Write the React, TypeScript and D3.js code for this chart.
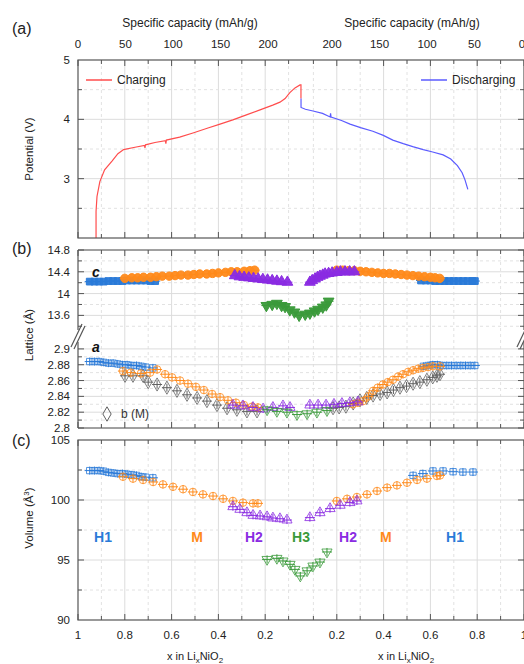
import React from "react";
import * as d3 from "d3";

// ---- data ----
// panel (a): [specific capacity mAh/g, potential V]
const chargeCurve: [number, number][] = [
  [19, 1.9], [19, 2.45], [20, 2.7], [23, 2.95], [28, 3.15], [36, 3.3], [42, 3.42], [48, 3.49],
  [60, 3.53], [70, 3.56], [70.5, 3.52], [71, 3.57], [81, 3.61], [92, 3.64], [92.5, 3.59], [93, 3.65],
  [107, 3.7], [121, 3.77], [136, 3.85], [149.5, 3.92], [163, 3.99], [178, 4.08], [191.6, 4.16],
  [205, 4.24], [212.6, 4.29], [218, 4.35], [223, 4.45], [228.4, 4.53], [233.7, 4.58], [234.7, 4.58],
  [234.7, 4.35],
];
const dischargeCurve: [number, number][] = [
  [232.6, 4.35], [232.6, 4.2], [228, 4.17], [220, 4.14], [210, 4.1], [202, 4.04], [201.5, 4.1],
  [201, 4.04], [190, 3.98], [181, 3.92], [170, 3.86], [157, 3.8], [146, 3.73], [136, 3.65],
  [125, 3.59], [115, 3.54], [104, 3.49], [94, 3.45], [83, 3.4], [75, 3.33], [68, 3.22], [63, 3.1],
  [60, 2.98], [57, 2.82],
];

// panel (b), c lattice: [x in LixNiO2, c (Å)]
const cH1Charge: [number, number][] = [
  [0.95, 14.22], [0.93, 14.22], [0.91, 14.22], [0.89, 14.22], [0.87, 14.23], [0.85, 14.23], [0.83, 14.23],
  [0.81, 14.23], [0.79, 14.24], [0.77, 14.24], [0.75, 14.24], [0.73, 14.24], [0.71, 14.24], [0.69, 14.23], [0.67, 14.23],
];
const cMCharge: [number, number][] = [
  [0.8, 14.28], [0.77, 14.29], [0.745, 14.29], [0.72, 14.3], [0.69, 14.3], [0.665, 14.31], [0.64, 14.32],
  [0.61, 14.32], [0.585, 14.33], [0.56, 14.34], [0.53, 14.34], [0.505, 14.35], [0.48, 14.36], [0.45, 14.36],
  [0.425, 14.37], [0.4, 14.38], [0.37, 14.39], [0.345, 14.4], [0.32, 14.4], [0.29, 14.41], [0.265, 14.42], [0.245, 14.43],
];
const cH2Charge: [number, number][] = [
  [0.33, 14.33], [0.31, 14.31], [0.29, 14.3], [0.27, 14.29], [0.25, 14.28], [0.23, 14.27], [0.21, 14.26],
  [0.19, 14.25], [0.17, 14.24], [0.15, 14.23], [0.13, 14.22], [0.105, 14.21],
];
const cH3Charge: [number, number][] = [
  [0.195, 13.78], [0.17, 13.8], [0.15, 13.82], [0.13, 13.78], [0.115, 13.76], [0.095, 13.7], [0.075, 13.66], [0.055, 13.6],
];
const cH3Discharge: [number, number][] = [
  [0.065, 13.62], [0.085, 13.64], [0.105, 13.68], [0.12, 13.71], [0.14, 13.75], [0.155, 13.79], [0.165, 13.86],
];
const cH2Discharge: [number, number][] = [
  [0.085, 14.21], [0.095, 14.24], [0.107, 14.27], [0.118, 14.3], [0.128, 14.32], [0.14, 14.34], [0.15, 14.36],
  [0.165, 14.37], [0.18, 14.38], [0.2, 14.39], [0.215, 14.4], [0.235, 14.4], [0.255, 14.4], [0.275, 14.4],
];
const cMDischarge: [number, number][] = [
  [0.2, 14.43], [0.225, 14.43], [0.25, 14.42], [0.275, 14.42], [0.3, 14.41], [0.325, 14.4], [0.35, 14.39],
  [0.375, 14.38], [0.4, 14.37], [0.425, 14.37], [0.45, 14.36], [0.475, 14.35], [0.5, 14.34], [0.525, 14.33],
  [0.55, 14.32], [0.575, 14.31], [0.6, 14.3], [0.62, 14.29], [0.64, 14.28],
];
const cH1Discharge: [number, number][] = [
  [0.56, 14.24], [0.58, 14.24], [0.6, 14.24], [0.62, 14.23], [0.64, 14.23], [0.66, 14.23], [0.68, 14.23],
  [0.7, 14.23], [0.72, 14.23], [0.74, 14.23], [0.76, 14.23], [0.78, 14.23], [0.79, 14.23],
];

// panel (b), a and b lattice
const aH1Charge: [number, number][] = [
  [0.95, 2.884], [0.93, 2.884], [0.91, 2.884], [0.89, 2.883], [0.87, 2.882], [0.85, 2.882], [0.83, 2.881],
  [0.81, 2.88], [0.79, 2.88], [0.77, 2.879], [0.75, 2.879], [0.73, 2.878], [0.71, 2.877], [0.68, 2.876],
];
const aMCharge: [number, number][] = [
  [0.808, 2.872], [0.774, 2.87], [0.731, 2.869], [0.692, 2.87], [0.662, 2.874], [0.628, 2.868], [0.598, 2.864],
  [0.564, 2.86], [0.53, 2.856], [0.496, 2.852], [0.462, 2.848], [0.427, 2.843], [0.393, 2.839], [0.359, 2.835],
  [0.325, 2.832], [0.291, 2.829], [0.256, 2.827], [0.231, 2.826],
];
const bMCharge: [number, number][] = [
  [0.799, 2.866], [0.765, 2.866], [0.722, 2.866], [0.7, 2.858], [0.662, 2.855], [0.62, 2.851], [0.577, 2.847],
  [0.534, 2.842], [0.491, 2.838], [0.449, 2.834], [0.406, 2.829], [0.363, 2.825], [0.321, 2.823], [0.278, 2.821], [0.235, 2.821],
];
const aH2Charge: [number, number][] = [
  [0.338, 2.829], [0.295, 2.828], [0.252, 2.826], [0.209, 2.824], [0.167, 2.826], [0.124, 2.828], [0.094, 2.826],
];
const aH3Charge: [number, number][] = [[0.192, 2.823], [0.15, 2.821], [0.107, 2.82], [0.064, 2.817]];
const aH3Discharge: [number, number][] = [[0.073, 2.818], [0.115, 2.82], [0.158, 2.822]];
const aH2Discharge: [number, number][] = [
  [0.085, 2.829], [0.12, 2.829], [0.154, 2.829], [0.188, 2.83], [0.222, 2.831], [0.256, 2.832], [0.29, 2.833],
];
const bMDischarge: [number, number][] = [
  [0.184, 2.825], [0.21, 2.826], [0.239, 2.827], [0.27, 2.831], [0.299, 2.835], [0.328, 2.838], [0.355, 2.841],
  [0.385, 2.843], [0.415, 2.845], [0.442, 2.848], [0.47, 2.851], [0.498, 2.853], [0.526, 2.856], [0.555, 2.858],
  [0.585, 2.861], [0.61, 2.864], [0.628, 2.866], [0.641, 2.868],
];
const aMDischarge: [number, number][] = [
  [0.269, 2.83], [0.29, 2.832], [0.312, 2.834], [0.335, 2.84], [0.355, 2.847], [0.375, 2.851], [0.397, 2.855],
  [0.418, 2.858], [0.44, 2.861], [0.462, 2.865], [0.483, 2.868], [0.505, 2.871], [0.526, 2.873], [0.548, 2.875],
  [0.568, 2.876], [0.59, 2.877], [0.611, 2.878], [0.641, 2.878],
];
const aH1Discharge: [number, number][] = [
  [0.57, 2.878], [0.59, 2.879], [0.61, 2.88], [0.63, 2.88], [0.65, 2.879], [0.67, 2.879], [0.69, 2.879],
  [0.71, 2.879], [0.73, 2.879], [0.75, 2.879], [0.77, 2.879], [0.79, 2.879],
];

// panel (c), volume: [x, V (Å3)]
const vH1Charge: [number, number][] = [
  [0.95, 102.45], [0.93, 102.45], [0.91, 102.45], [0.89, 102.4], [0.87, 102.3], [0.85, 102.25], [0.83, 102.2],
  [0.81, 102.2], [0.79, 102.15], [0.77, 102.1], [0.75, 102.05], [0.73, 101.95], [0.71, 101.9], [0.68, 101.85],
];
const vMCharge: [number, number][] = [
  [0.808, 101.94], [0.765, 101.78], [0.722, 101.67], [0.679, 101.5], [0.637, 101.3], [0.594, 101.1], [0.551, 100.9],
  [0.509, 100.67], [0.466, 100.47], [0.423, 100.33], [0.38, 100.1], [0.338, 99.92], [0.295, 99.78], [0.252, 99.72], [0.231, 99.72],
];
const vH2Charge: [number, number][] = [
  [0.338, 99.44], [0.308, 99.22], [0.278, 98.94], [0.252, 98.72], [0.222, 98.67], [0.192, 98.6], [0.167, 98.5],
  [0.137, 98.44], [0.107, 98.33],
];
const vH3Charge: [number, number][] = [
  [0.192, 95.05], [0.15, 95.14], [0.124, 94.92], [0.094, 94.64], [0.073, 94.22], [0.05, 93.67],
];
const vH3Discharge: [number, number][] = [[0.073, 94.1], [0.098, 94.5], [0.128, 94.83], [0.158, 95.67]];
const vH2Discharge: [number, number][] = [
  [0.085, 98.53], [0.128, 98.94], [0.171, 99.28], [0.214, 99.56], [0.256, 99.78], [0.286, 99.92],
];
const vMDischarge: [number, number][] = [
  [0.2, 99.92], [0.244, 100.1], [0.286, 100.25], [0.329, 100.47], [0.372, 100.75], [0.415, 101.03], [0.457, 101.22],
  [0.5, 101.44], [0.543, 101.67], [0.585, 101.78], [0.628, 102.0], [0.641, 102.05],
];
const vH1Discharge: [number, number][] = [
  [0.526, 102.05], [0.568, 102.2], [0.611, 102.42], [0.654, 102.42], [0.697, 102.36], [0.739, 102.33], [0.782, 102.33],
];

const capacityTicks = [0, 50, 100, 150, 200];
const xTicks = [1, 0.9, 0.8, 0.7, 0.6, 0.5, 0.4, 0.3, 0.2, 0.1];
const xTickLabels = ["1", "0.8", "0.6", "0.4", "0.2"];
const phaseLabels = [
  { t: "H1", x: 0.893, side: "c", phase: "H1" },
  { t: "M", x: 0.491, side: "c", phase: "M" },
  { t: "H2", x: 0.248, side: "c", phase: "H2" },
  { t: "H3", x: 0.047, side: "c", phase: "H3" },
  { t: "H2", x: 0.248, side: "d", phase: "H2" },
  { t: "M", x: 0.41, side: "d", phase: "M" },
  { t: "H1", x: 0.705, side: "d", phase: "H1" },
];

const colors: Record<string, string> = {
  H1: "#2a7ad8",
  M: "#ff8a1a",
  H2: "#8a2be2",
  H3: "#3a9a3a",
  b: "#606060",
};

const FONT = "'Liberation Sans', Arial, sans-serif";
const L = 78;
const R = 524;
const frame = "#555";
const TICK_FONT = 11.5;

// x axis: charge side runs 1 -> ~0.05, discharge side ~0.05 -> 1
const xu = d3.scaleLinear().domain([0, 1.906]).range([L, R]);
const xPos = (x: number, side: string) => xu(side === "c" ? 1 - x : 0.906 + x);
const capC = d3.scaleLinear().domain([0, 250]).range([L, L + 237.5]);
const capD = d3.scaleLinear().domain([0, 250]).range([522, 522 - 237.5]);

const ya = d3.scaleLinear().domain([2, 5]).range([238, 60]);
const ybU = d3.scaleLinear().domain([13.35, 14.8]).range([329, 250]);
const ybL = d3.scaleLinear().domain([2.8, 2.91]).range([428, 341]);
const yc = d3.scaleLinear().domain([90, 105]).range([620, 440]);

const symPath = (type: d3.SymbolType, size: number) => d3.symbol().type(type).size(size)() || "";

type Series = {
  data: [number, number][];
  side: string;
  phase: string;
  shape: d3.SymbolType;
  down?: boolean;
  filled: boolean;
  size: number;
};

function Markers({ s, y }: { s: Series; y: d3.ScaleLinear<number, number> }) {
  const col = colors[s.phase];
  const path = symPath(s.shape, s.size);
  return (
    <g>
      {s.data.map(([x, v], i) => {
        const px = xPos(x, s.side);
        const py = y(v);
        return (
          <g key={i} transform={`translate(${px},${py})`}>
            <line x1={-5} x2={5} y1={0} y2={0} stroke={col} strokeWidth={1} />
            {!s.filled && <line x1={0} x2={0} y1={-4} y2={4} stroke={col} strokeWidth={1} />}
            <path
              d={path}
              transform={s.down ? "rotate(180)" : undefined}
              fill={s.filled ? col : "none"}
              fillOpacity={s.filled ? 0.95 : 0}
              stroke={col}
              strokeOpacity={s.filled ? 1 : 0.8}
              strokeWidth={1}
            />
          </g>
        );
      })}
    </g>
  );
}

function XFrameTicks({ top, bottom }: { top: number; bottom: number }) {
  const items: JSX.Element[] = [];
  ["c", "d"].forEach((side) => {
    xTicks.forEach((t, i) => {
      const px = xPos(t, side);
      const major = Math.round(t * 10) % 2 === 0;
      const len = major ? 6 : 4;
      items.push(
        <g key={`${side}${i}`}>
          <line x1={px} x2={px} y1={top} y2={top + len} stroke={frame} strokeWidth={1} />
          <line x1={px} x2={px} y1={bottom} y2={bottom - len} stroke={frame} strokeWidth={1} />
        </g>
      );
    });
  });
  return <g>{items}</g>;
}

function XGrid({ top, bottom }: { top: number; bottom: number }) {
  const items: JSX.Element[] = [];
  ["c", "d"].forEach((side) => {
    xTicks.forEach((t, i) => {
      if (t === 1) return;
      const px = xPos(t, side);
      const major = Math.round(t * 10) % 2 === 0;
      items.push(
        <line
          key={`${side}${i}`}
          x1={px}
          x2={px}
          y1={top}
          y2={bottom}
          stroke={major ? "#dcdcdc" : "#e2e2e2"}
          strokeWidth={1}
          strokeDasharray={major ? undefined : "3,3"}
        />
      );
    });
  });
  return <g>{items}</g>;
}

function YAxis({
  y,
  major,
  minor,
  labels,
  fmt,
}: {
  y: d3.ScaleLinear<number, number>;
  major: number[];
  minor: number[];
  labels: number[];
  fmt: (v: number) => string;
}) {
  return (
    <g>
      {major.map((v, i) => (
        <line key={"gm" + i} x1={L} x2={R} y1={y(v)} y2={y(v)} stroke="#dcdcdc" strokeWidth={1} />
      ))}
      {minor.map((v, i) => (
        <line key={"gn" + i} x1={L} x2={R} y1={y(v)} y2={y(v)} stroke="#e2e2e2" strokeWidth={1} strokeDasharray="3,3" />
      ))}
      {major.map((v, i) => (
        <g key={"tm" + i}>
          <line x1={L} x2={L + 6} y1={y(v)} y2={y(v)} stroke={frame} />
          <line x1={R} x2={R - 6} y1={y(v)} y2={y(v)} stroke={frame} />
        </g>
      ))}
      {minor.map((v, i) => (
        <g key={"tn" + i}>
          <line x1={L} x2={L + 4} y1={y(v)} y2={y(v)} stroke={frame} />
          <line x1={R} x2={R - 4} y1={y(v)} y2={y(v)} stroke={frame} />
        </g>
      ))}
      {labels.map((v, i) => (
        <text key={"l" + i} x={70} y={y(v) + 4} textAnchor="end" fontSize={TICK_FONT} fill="#222">
          {fmt(v)}
        </text>
      ))}
    </g>
  );
}

const cSeries: Series[] = [
  { data: cH1Charge, side: "c", phase: "H1", shape: d3.symbolSquare, filled: true, size: 45 },
  { data: cH1Discharge, side: "d", phase: "H1", shape: d3.symbolSquare, filled: true, size: 45 },
  { data: cMCharge, side: "c", phase: "M", shape: d3.symbolCircle, filled: true, size: 55 },
  { data: cMDischarge, side: "d", phase: "M", shape: d3.symbolCircle, filled: true, size: 55 },
  { data: cH2Charge, side: "c", phase: "H2", shape: d3.symbolTriangle, filled: true, size: 50 },
  { data: cH2Discharge, side: "d", phase: "H2", shape: d3.symbolTriangle, filled: true, size: 50 },
  { data: cH3Charge, side: "c", phase: "H3", shape: d3.symbolTriangle, down: true, filled: true, size: 50 },
  { data: cH3Discharge, side: "d", phase: "H3", shape: d3.symbolTriangle, down: true, filled: true, size: 50 },
];
const aSeries: Series[] = [
  { data: bMCharge, side: "c", phase: "b", shape: d3.symbolDiamond, filled: false, size: 50 },
  { data: bMDischarge, side: "d", phase: "b", shape: d3.symbolDiamond, filled: false, size: 50 },
  { data: aH1Charge, side: "c", phase: "H1", shape: d3.symbolSquare, filled: false, size: 40 },
  { data: aH1Discharge, side: "d", phase: "H1", shape: d3.symbolSquare, filled: false, size: 40 },
  { data: aMCharge, side: "c", phase: "M", shape: d3.symbolCircle, filled: false, size: 45 },
  { data: aMDischarge, side: "d", phase: "M", shape: d3.symbolCircle, filled: false, size: 45 },
  { data: aH2Charge, side: "c", phase: "H2", shape: d3.symbolTriangle, filled: false, size: 45 },
  { data: aH2Discharge, side: "d", phase: "H2", shape: d3.symbolTriangle, filled: false, size: 45 },
  { data: aH3Charge, side: "c", phase: "H3", shape: d3.symbolTriangle, down: true, filled: false, size: 45 },
  { data: aH3Discharge, side: "d", phase: "H3", shape: d3.symbolTriangle, down: true, filled: false, size: 45 },
];
const vSeries: Series[] = [
  { data: vH1Charge, side: "c", phase: "H1", shape: d3.symbolSquare, filled: false, size: 40 },
  { data: vH1Discharge, side: "d", phase: "H1", shape: d3.symbolSquare, filled: false, size: 40 },
  { data: vMCharge, side: "c", phase: "M", shape: d3.symbolCircle, filled: false, size: 45 },
  { data: vMDischarge, side: "d", phase: "M", shape: d3.symbolCircle, filled: false, size: 45 },
  { data: vH2Charge, side: "c", phase: "H2", shape: d3.symbolTriangle, filled: false, size: 45 },
  { data: vH2Discharge, side: "d", phase: "H2", shape: d3.symbolTriangle, filled: false, size: 45 },
  { data: vH3Charge, side: "c", phase: "H3", shape: d3.symbolTriangle, down: true, filled: false, size: 45 },
  { data: vH3Discharge, side: "d", phase: "H3", shape: d3.symbolTriangle, down: true, filled: false, size: 45 },
];

export default function App() {
  const chargeLine = d3
    .line<[number, number]>()
    .x((d) => capC(d[0]))
    .y((d) => ya(d[1]));
  const dischargeLine = d3
    .line<[number, number]>()
    .x((d) => capD(d[0]))
    .y((d) => ya(d[1]));

  const d3f = (v: number) => String(v);

  return (
    <svg
      width={524}
      height={664}
      style={{ position: "absolute", left: 0, top: 0, background: "#fff" }}
      fontFamily={FONT}
    >
      <defs>
        <clipPath id="clipA">
          <rect x={L} y={60} width={R - L} height={178} />
        </clipPath>
      </defs>

      {/* top capacity axis */}
      {["c", "d"].map((side) => (
        <text key={side} x={side === "c" ? 190 : 412} y={27} textAnchor="middle" fontSize={12} fill="#222">
          Specific capacity (mAh/g)
        </text>
      ))}
      {capacityTicks.map((c) => (
        <text key={"tc" + c} x={capC(c)} y={48} textAnchor="middle" fontSize={TICK_FONT} fill="#222">
          {c}
        </text>
      ))}
      {capacityTicks.map((c) => (
        <text key={"td" + c} x={capD(c)} y={48} textAnchor="middle" fontSize={TICK_FONT} fill="#222">
          {c}
        </text>
      ))}

      {/* panel labels */}
      <text x={12} y={34} fontSize={16} fill="#222">(a)</text>
      <text x={12} y={254} fontSize={16} fill="#222">(b)</text>
      <text x={12} y={446} fontSize={16} fill="#222">(c)</text>

      {/* ===== panel (a) ===== */}
      <XGrid top={60} bottom={238} />
      <YAxis y={ya} major={[3, 4]} minor={[2.5, 3.5, 4.5]} labels={[3, 4, 5]} fmt={d3f} />
      <g clipPath="url(#clipA)">
        <path d={chargeLine(chargeCurve) || ""} fill="none" stroke="#ff4d4d" strokeWidth={1.2} />
        <path d={dischargeLine(dischargeCurve) || ""} fill="none" stroke="#5b5bff" strokeWidth={1.2} />
      </g>
      <XFrameTicks top={60} bottom={238} />
      <rect x={L} y={60} width={R - L} height={178} fill="none" stroke={frame} strokeWidth={1.2} />
      <line x1={86} x2={112} y1={80} y2={80} stroke="#ff4d4d" strokeWidth={1.5} />
      <text x={117} y={84} fontSize={12} fill="#222">Charging</text>
      <line x1={421} x2={447} y1={80} y2={80} stroke="#5b5bff" strokeWidth={1.5} />
      <text x={452} y={84} fontSize={12} fill="#222">Discharging</text>
      <text transform={`translate(33,149) rotate(-90)`} textAnchor="middle" fontSize={11.5} fill="#222">
        Potential (V)
      </text>

      {/* ===== panel (b) ===== */}
      <XGrid top={250} bottom={428} />
      <YAxis
        y={ybU}
        major={[13.6, 14, 14.4, 14.8]}
        minor={[13.4, 13.8, 14.2, 14.6]}
        labels={[13.6, 14, 14.4, 14.8]}
        fmt={d3f}
      />
      <YAxis
        y={ybL}
        major={[2.8, 2.82, 2.84, 2.86, 2.88, 2.9]}
        minor={[2.81, 2.83, 2.85, 2.87, 2.89]}
        labels={[2.8, 2.82, 2.84, 2.86, 2.88, 2.9]}
        fmt={(v) => d3.format(".3~f")(v)}
      />
      {cSeries.map((s, i) => (
        <Markers key={"c" + i} s={s} y={ybU} />
      ))}
      {aSeries.map((s, i) => (
        <Markers key={"a" + i} s={s} y={ybL} />
      ))}
      <XFrameTicks top={250} bottom={428} />
      <line x1={L} x2={R} y1={250} y2={250} stroke={frame} strokeWidth={1.2} />
      <line x1={L} x2={R} y1={428} y2={428} stroke={frame} strokeWidth={1.2} />
      {[L, R].map((x) => (
        <g key={"ax" + x}>
          <line x1={x} x2={x} y1={250} y2={330} stroke={frame} strokeWidth={1.2} />
          <line x1={x} x2={x} y1={342} y2={428} stroke={frame} strokeWidth={1.2} />
          <rect x={x - 8} y={330} width={16} height={12} fill="#fff" />
          <line x1={x - 7} x2={x + 4} y1={347} y2={324} stroke={frame} strokeWidth={1.2} />
          <line x1={x - 4} x2={x + 7} y1={349} y2={326} stroke={frame} strokeWidth={1.2} />
        </g>
      ))}
      <text x={92} y={277} fontSize={14} fontWeight="bold" fontStyle="italic" fill="#111">c</text>
      <text x={92} y={352} fontSize={14} fontWeight="bold" fontStyle="italic" fill="#111">a</text>
      <path d={symPath(d3.symbolDiamond, 60)} transform="translate(107,414)" fill="none" stroke={colors.b} strokeWidth={1} />
      <text x={121} y={418} fontSize={12} fill="#333">b (M)</text>
      <text transform={`translate(33,335) rotate(-90)`} textAnchor="middle" fontSize={11.5} fill="#222">
        Lattice (Å)
      </text>

      {/* ===== panel (c) ===== */}
      <XGrid top={440} bottom={620} />
      <YAxis y={yc} major={[95, 100]} minor={[92.5, 97.5, 102.5]} labels={[90, 95, 100, 105]} fmt={d3f} />
      {vSeries.map((s, i) => (
        <Markers key={"v" + i} s={s} y={yc} />
      ))}
      {phaseLabels.map((p, i) => (
        <text
          key={"p" + i}
          x={xPos(p.x, p.side)}
          y={542}
          textAnchor="middle"
          fontSize={14}
          fontWeight="bold"
          fill={colors[p.phase]}
        >
          {p.t}
        </text>
      ))}
      <XFrameTicks top={440} bottom={620} />
      <rect x={L} y={440} width={R - L} height={180} fill="none" stroke={frame} strokeWidth={1.2} />
      <text transform={`translate(33,518) rotate(-90)`} textAnchor="middle" fontSize={11.5} fill="#222">
        Volume (Å<tspan dy={-4} fontSize={8}>3</tspan>
        <tspan dy={4}>)</tspan>
      </text>

      {/* bottom x axis */}
      {["c", "d"].map((side) =>
        xTickLabels.map((lab) => (
          <text
            key={side + lab}
            x={xPos(parseFloat(lab), side)}
            y={639}
            textAnchor="middle"
            fontSize={TICK_FONT}
            fill="#222"
          >
            {lab}
          </text>
        ))
      )}
      {[195, 406].map((cx) => (
        <text key={"xt" + cx} x={cx} y={660} textAnchor="middle" fontSize={11} fill="#222">
          x in Li<tspan dy={3} fontSize={8}>x</tspan>
          <tspan dy={-3}>NiO</tspan>
          <tspan dy={3} fontSize={8}>2</tspan>
        </text>
      ))}
    </svg>
  );
}
